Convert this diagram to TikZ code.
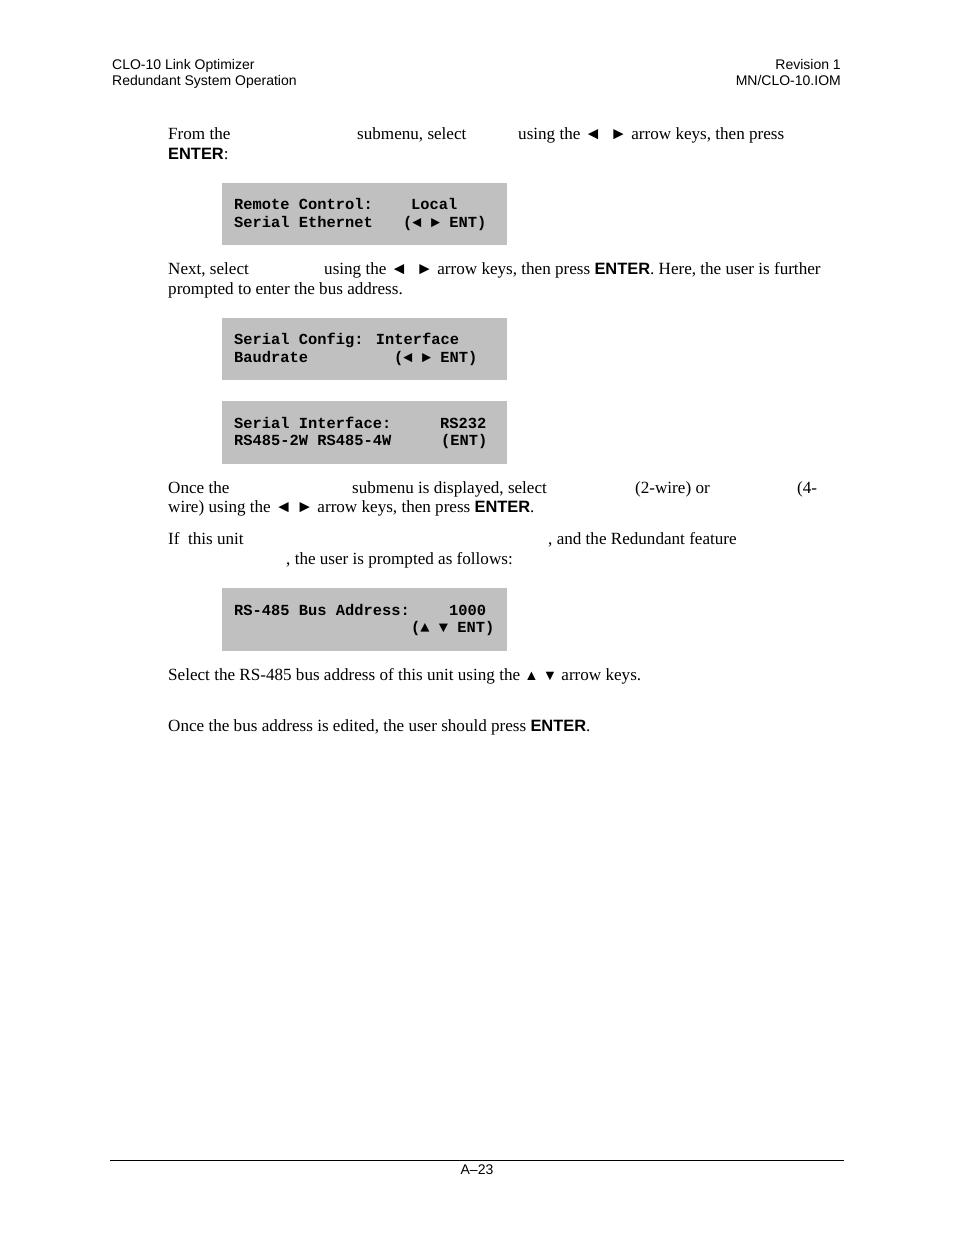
\documentclass[tikz,border=0pt]{standalone}
\usepackage{fontspec}
\setmainfont{Liberation Serif}
\newfontfamily\arialf{Liberation Sans}
\newfontfamily\courf{Liberation Mono}
\definecolor{lcdgray}{HTML}{C0C0C0}
\tikzset{
  body/.style={anchor=base west, inner sep=0pt, font=\fontsize{17.1}{20}\selectfont},
  hdr/.style={inner sep=0pt, font=\arialf\fontsize{14}{16}\selectfont},
  lcdtxt/.style={anchor=base west, inner sep=0pt, font=\courf\bfseries\fontsize{15.4}{18}\selectfont},
  lcd/.style={fill=lcdgray, draw=none},
}
\newcommand{\entk}{{\arialf\bfseries\fontsize{16.4}{20}\selectfont ENTER}}
\begin{document}
\begin{tikzpicture}[x=1pt,y=-1pt]
\useasboundingbox[fill=white] (0,0) rectangle (954,1235);
% header
\node[hdr, anchor=base west] (h1) at (112,69) {CLO-10 Link Optimizer};
\node[hdr, anchor=base west] (h2) at (112,85) {Redundant System Operation};
\node[hdr, anchor=base east] (h3) at (841,69) {Revision 1};
\node[hdr, anchor=base east] (h4) at (841,85) {MN/CLO-10.IOM};
% paragraph 1
\node[body] (p1a) at (168,139) {From the};
\node[body] (p1b) at (357,139) {submenu, select};
\node[body] (p1c) at (518,139) {using the ◄\ \ ► arrow keys, then press};
\node[body] (p1d) at (168,159) {\entk:};
% box 1
\fill[lcd] (222,183) rectangle (507,245);
\node[lcdtxt] (b1a) at (234,209.5) {Remote Control:};
\node[lcdtxt] (b1b) at (411,209.5) {Local};
\node[lcdtxt] (b1c) at (234,227.5) {Serial Ethernet};
\node[lcdtxt] (b1d) at (403,227.5) {(◄ ► ENT)};
% paragraph 2
\node[body] (p2a) at (168,274) {Next, select};
\node[body] (p2b) at (324,274) {using the ◄\ \ ► arrow keys, then press \entk. Here, the user is further};
\node[body] (p2c) at (168,294) {prompted to enter the bus address.};
% box 2
\fill[lcd] (222,318) rectangle (507,380);
\node[lcdtxt] (b2a) at (234,344.5) {Serial Config: Interface};
\node[lcdtxt] (b2b) at (234,362.5) {Baudrate};
\node[lcdtxt] (b2c) at (394,362.5) {(◄ ► ENT)};
% box 3
\fill[lcd] (222,401) rectangle (507,464);
\node[lcdtxt] (b3a) at (234,428.5) {Serial Interface:};
\node[lcdtxt] (b3b) at (440,428.5) {RS232};
\node[lcdtxt] (b3c) at (234,445.5) {RS485-2W RS485-4W};
\node[lcdtxt] (b3d) at (441,445.5) {(ENT)};
% paragraph 3
\node[body] (p3a) at (168,493) {Once the};
\node[body] (p3b) at (352,493) {submenu is displayed, select};
\node[body] (p3c) at (635,493) {(2-wire) or};
\node[body] (p3d) at (797,493) {(4-};
\node[body] (p3e) at (168,512) {wire) using the ◄ ► arrow keys, then press \entk.};
% paragraph 4
\node[body] (p4a) at (168,544) {If\ \ this unit};
\node[body] (p4b) at (548,544) {, and the Redundant feature};
\node[body] (p4c) at (286,564) {, the user is prompted as follows:};
% box 4
\fill[lcd] (222,588) rectangle (507,651);
\node[lcdtxt] (b4a) at (234,615.5) {RS-485 Bus Address:};
\node[lcdtxt] (b4b) at (449,615.5) {1000};
\node[lcdtxt] (b4c) at (411,632.5) {(▲ ▼ ENT)};
% paragraphs 5,6
\node[body] (p5) at (168,680) {Select the RS-485 bus address of this unit using the {\arialf\fontsize{14.5}{14}\selectfont ▲ ▼} arrow keys.};
\node[body] (p6) at (168,731) {Once the bus address is edited, the user should press \entk.};
% footer
\draw[line width=1pt] (110,1160) coordinate (fl) -- (844,1160) coordinate (fr);
\node[hdr, anchor=base] (f1) at (477,1174) {A–23};
\end{tikzpicture}
\end{document}
